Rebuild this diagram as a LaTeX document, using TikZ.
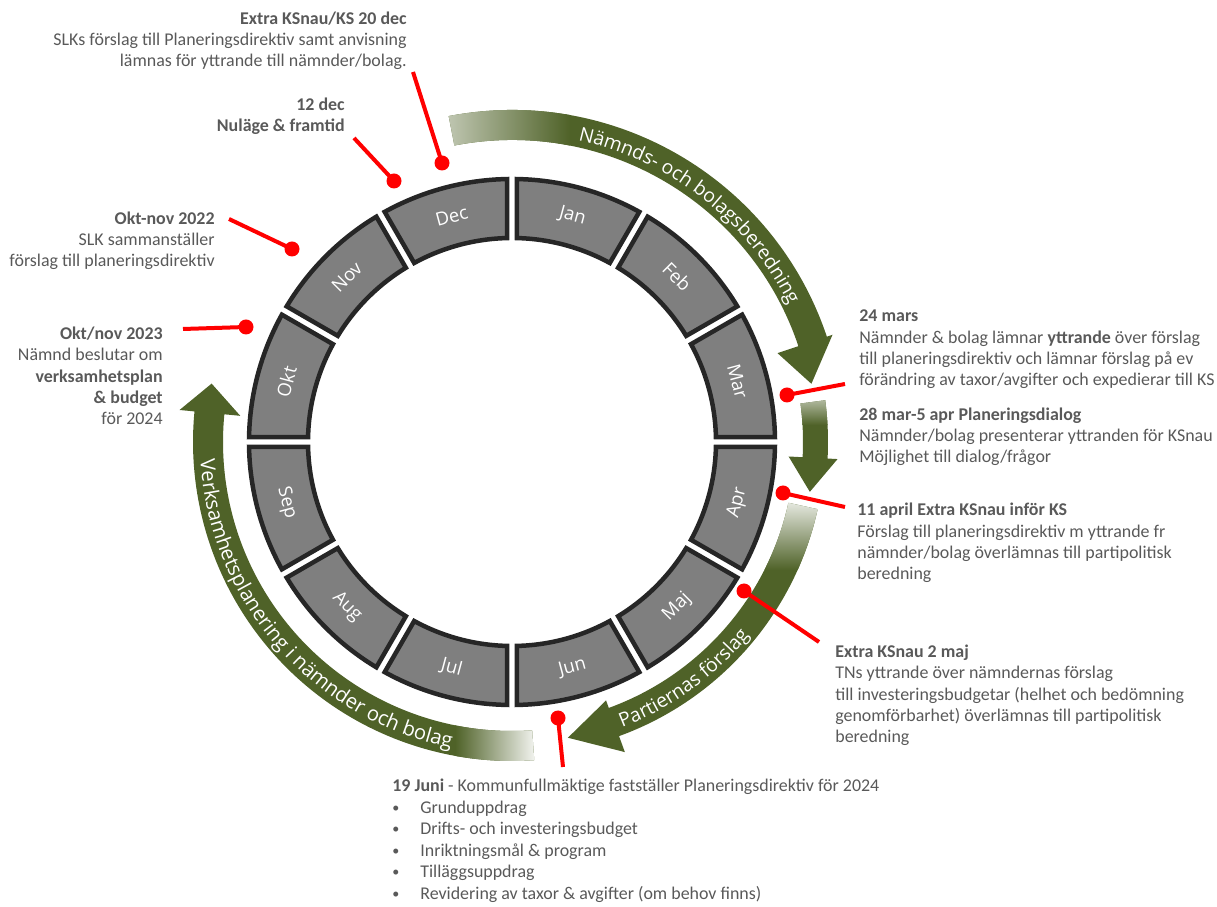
\documentclass[tikz,border=0pt]{standalone}
\usepackage{fontspec}
\setmainfont{Carlito}
\newfontfamily\ringfont{Open Sans}
\usetikzlibrary{math}
\usetikzlibrary{decorations.text}
\definecolor{cgreen}{HTML}{4F6228}
\definecolor{cring}{HTML}{7F7F7F}
\definecolor{cedge}{HTML}{262626}
\definecolor{ctext}{HTML}{595959}
\definecolor{cpin}{HTML}{FF0000}
\def\notefont{\fontsize{10.2}{12.2}\selectfont}
\def\arcfont{\ringfont\fontsize{11}{13}\selectfont}
\def\arcfontwide{\ringfont\fontsize{11.5}{13}\selectfont}
\def\bul{\makebox[0.56cm][l]{\raisebox{0.4pt}{\fontsize{8}{8}\selectfont\textbullet}}}
% curved arrow: start, head base, tip angle, shaft in/out, head in/out, tip radius
\def\arrowshape#1#2#3#4#5#6#7#8{(#1:#5) arc[start angle=#1, end angle=#2, radius=#5] -- (#2:#7) -- (#3:#8) -- (#2:#6) -- (#2:#4) arc[start angle=#2, end angle=#1, radius=#4] -- cycle}

\begin{document}
\begin{tikzpicture}[x=0.02cm, y=0.02cm,
  monthseg/.style={fill=cring, draw=cedge, line width=0.09cm},
  monthlabel/.style={text=white, font=\ringfont\fontsize{10.5}{12}\selectfont, inner sep=0pt},
  note/.style={text=ctext, font=\notefont, inner sep=0pt},
  pinline/.style={draw=cpin, line width=0.08cm},
  pindot/.style={circle, fill=cpin, inner sep=0pt, minimum size=0.3cm},
  arctext/.style={decorate, decoration={text along path, text align=center, text color=white, text={|\arcfont|#1}}},
  arctextwide/.style={decorate, decoration={text along path, text align=center, text color=white, text={|\arcfontwide|#1}}}]
  \useasboundingbox (0,0) rectangle (1217,906);
  \tikzmath{
    \Ro = 263;
    \Ri = 204;
    \Rm = 233.5;
    \dO = asin(4.8/\Ro);
    \dI = asin(4.8/\Ri);
  }
  \coordinate (ring) at (512,464);

  \begin{scope}[shift={(ring)}]
    % arrows round the ring
    \begin{scope}
      \clip \arrowshape{101}{18.5}{11}{302}{332}{280}{338}{305};
      \fill[cgreen] (-400,-400) rectangle (400,400);
      \shade[left color=cgreen!35, right color=cgreen] (-67,250) rectangle (58,345);
    \end{scope}
    \begin{scope}
      \clip \arrowshape{7.6}{-3}{-9.5}{291}{316}{277}{326}{302};
      \fill[cgreen] (-400,-400) rectangle (400,400);
      \shade[top color=cgreen!45, bottom color=cgreen] (250,17) rectangle (350,42);
    \end{scope}
    \begin{scope}
      \clip \arrowshape{-12.4}{-70}{-79.3}{283}{313}{275}{330}{301};
      \fill[cgreen] (-400,-400) rectangle (400,400);
      \shade[top color=cgreen!8, bottom color=cgreen] (240,-128) rectangle (340,-55);
    \end{scope}
    \begin{scope}
      \clip \arrowshape{-86}{-185.5}{-191}{289}{319}{273}{334}{306};
      \fill[cgreen] (-400,-400) rectangle (400,400);
      \shade[left color=cgreen, right color=cgreen!5] (-57,-340) rectangle (25,-270);
    \end{scope}
    \path[arctext={Nämnds- och bolagsberedning}] (90:309) arc[start angle=90, end angle=14, radius=309];
    \path[arctext={Partiernas förslag}] (-80:306) arc[start angle=-80, end angle=-28, radius=306];
    \path[arctextwide={Verksamhetsplanering i nämnder och bolag}] (173:312) arc[start angle=173, end angle=269, radius=312];

    % month ring
    \foreach \m [count=\i from 0] in {Jan,Feb,Mar,Apr,Maj,Jun,Jul,Aug,Sep,Okt,Nov,Dec} {
      \pgfmathsetmacro\ts{90-30*\i}
      \pgfmathsetmacro\te{60-30*\i}
      \pgfmathsetmacro\tm{75-30*\i}
      \pgfmathsetmacro\rot{sin(\tm)>0 ? \tm-90 : \tm+90}
      \draw[monthseg] ({\ts-\dO}:\Ro) arc[start angle=\ts-\dO, end angle=\te+\dO, radius=\Ro] -- ({\te+\dI}:\Ri) arc[start angle=\te+\dI, end angle=\ts-\dI, radius=\Ri] -- cycle;
      \node[monthlabel, rotate=\rot] (m\m) at (\tm:\Rm) {\m};
    }
  \end{scope}

  % pins
  \coordinate (end20dec) at (413,834);
  \node[pindot] (dot20dec) at (442,743) {};
  \draw[pinline] (end20dec) -- (dot20dec.center);
  \coordinate (end12dec) at (354,768);
  \node[pindot] (dot12dec) at (394,725) {};
  \draw[pinline] (end12dec) -- (dot12dec.center);
  \coordinate (endOkt22) at (229,687);
  \node[pindot] (dotOkt22) at (292,657) {};
  \draw[pinline] (endOkt22) -- (dotOkt22.center);
  \coordinate (endOkt23) at (183,577);
  \node[pindot] (dotOkt23) at (246,579) {};
  \draw[pinline] (endOkt23) -- (dotOkt23.center);
  \coordinate (endMar24) at (845,522);
  \node[pindot] (dotMar24) at (787,511) {};
  \draw[pinline] (endMar24) -- (dotMar24.center);
  \coordinate (endApr11) at (845,399);
  \node[pindot] (dotApr11) at (783,413) {};
  \draw[pinline] (endApr11) -- (dotApr11.center);
  \coordinate (endMaj2) at (819,264);
  \node[pindot] (dotMaj2) at (744,315) {};
  \draw[pinline] (endMaj2) -- (dotMaj2.center);
  \coordinate (endJun19) at (563,139);
  \node[pindot] (dotJun19) at (558,188) {};
  \draw[pinline] (endJun19) -- (dotJun19.center);

  % notes (base = last line)
  \node[note, anchor=base east, align=right] (t20dec) at (407,839)
    {\textbf{Extra KSnau/KS 20 dec}\\SLKs förslag till Planeringsdirektiv samt anvisning\\lämnas för yttrande till nämnder/bolag.};
  \node[note, anchor=base east, align=right] (t12dec) at (345,774)
    {\textbf{12 dec}\\\textbf{Nuläge \& framtid}};
  \node[note, anchor=base east, align=right] (tOkt22) at (215,639)
    {\textbf{Okt-nov 2022}\\SLK sammanställer\\förslag till planeringsdirektiv};
  \node[note, anchor=base east, align=right] (tOkt23) at (163,481)
    {\textbf{Okt/nov 2023}\\Nämnd beslutar om\\\textbf{verksamhetsplan}\\\textbf{\& budget}\\för 2024};
  \node[note, anchor=base west, align=left] (tMar24) at (859,520)
    {\textbf{24 mars}\\Nämnder \& bolag lämnar \textbf{yttrande} över förslag\\till planeringsdirektiv och lämnar förslag på ev\\förändring av taxor/avgifter och expedierar till KS};
  \node[note, anchor=base west, align=left] (tDialog) at (859,443)
    {\textbf{28 mar-5 apr Planeringsdialog}\\Nämnder/bolag presenterar yttranden för KSnau\\Möjlighet till dialog/frågor};
  \node[note, anchor=base west, align=left] (tApr11) at (857,326)
    {\textbf{11 april Extra KSnau inför KS}\\Förslag till planeringsdirektiv m yttrande fr\\nämnder/bolag överlämnas till partipolitisk\\beredning};
  \node[note, anchor=base west, align=left] (tMaj2) at (835,163)
    {\textbf{Extra KSnau 2 maj}\\TNs yttrande över nämndernas förslag\\till investeringsbudgetar (helhet och bedömning\\genomförbarhet) överlämnas till partipolitisk\\beredning};
  \node[note, anchor=base west, align=left] (tJun19) at (392,7)
    {\textbf{19 Juni} - Kommunfullmäktige fastställer Planeringsdirektiv för 2024\\\bul Grunduppdrag\\\bul Drifts- och investeringsbudget\\\bul Inriktningsmål \& program\\\bul Tilläggsuppdrag\\\bul Revidering av taxor \& avgifter (om behov finns)};
\end{tikzpicture}
\end{document}
